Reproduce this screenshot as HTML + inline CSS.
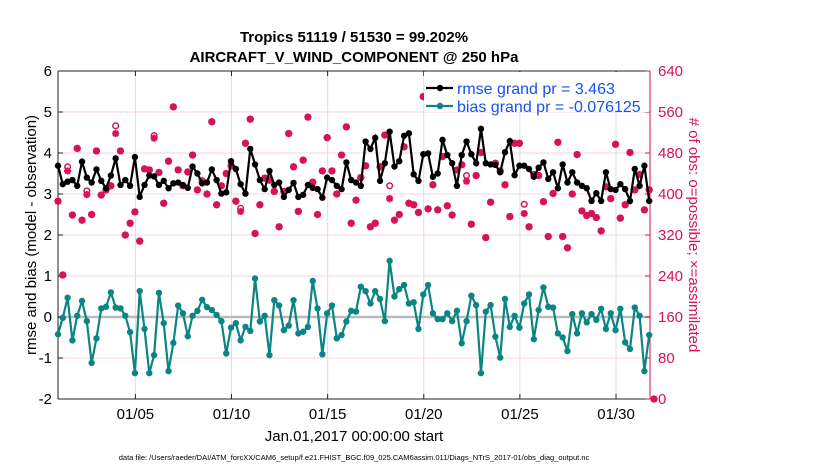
<!DOCTYPE html>
<html><head><meta charset="utf-8"><style>
body{margin:0;background:#fff;}
svg{display:block;font-family:"Liberation Sans",Arial,sans-serif;}
</style></head><body>
<svg id="chart" width="830" height="470" viewBox="0 0 830 470">
<rect width="830" height="470" fill="#fff"/>
<text x="354" y="42" text-anchor="middle" font-size="15" font-weight="bold">Tropics 51119 / 51530 = 99.202%</text>
<text x="354" y="62" text-anchor="middle" font-size="15" font-weight="bold">AIRCRAFT_V_WIND_COMPONENT @ 250 hPa</text>
<g id="grid"></g>
<g id="axes"></g>
<g id="marks"></g>
<g id="legend"></g>
<text transform="translate(36,235) rotate(-90)" text-anchor="middle" font-size="15">rmse and bias (model - observation)</text>
<text transform="translate(689,235) rotate(90)" text-anchor="middle" font-size="15" fill="#d6125a"># of obs: o=possible; ×=assimilated</text>
<text x="354" y="441" text-anchor="middle" font-size="15">Jan.01,2017 00:00:00 start</text>
<text x="354" y="460" text-anchor="middle" font-size="7.5">data file: /Users/raeder/DAI/ATM_forcXX/CAM6_setup/f.e21.FHIST_BGC.f09_025.CAM6assim.011/Diags_NTrS_2017-01/obs_diag_output.nc</text>
</svg>
<script>
const rmse=[3.69,3.24,3.3,3.34,3.2,3.79,3.4,3.28,3.6,3.32,3.14,3.45,3.87,3.22,3.34,3.2,3.9,2.93,3.22,3.45,3.43,3.22,3.32,3.14,3.26,3.28,3.22,3.15,3.67,3.5,3.26,3.28,
3.6,3.34,3.01,3.04,3.8,3.61,3.24,3.01,4.1,3.72,3.34,3.12,3.56,3.22,3.28,2.93,3.1,3.27,2.93,2.98,3.22,3.15,3.12,2.91,3.4,3.34,3.2,3.12,3.77,3.34,
3.28,3.2,4.28,4.1,4.37,3.32,3.75,4.52,3.67,3.8,4.42,4.48,3.48,3.32,3.97,3.99,3.42,3.5,4.32,3.95,3.75,3.2,3.95,4.28,3.97,3.75,4.59,3.75,3.72,3.71,3.53,
4.02,4.29,3.46,3.69,3.69,3.61,3.42,3.64,3.77,3.37,3.53,3.14,3.72,3.28,3.53,3.28,3.2,3.14,2.83,3.02,2.83,3.53,3.12,3.1,3.24,3.12,2.83,3.61,3.2,3.69,2.83];
const bias=[-0.42,-0.02,0.47,-0.57,0.03,0.39,-0.1,-1.12,-0.52,0.21,0.25,0.6,0.23,0.21,0.03,-0.37,-1.37,0.63,-0.29,-1.37,-0.93,0.59,-0.15,-1.32,-0.63,0.28,0.09,-0.47,0.03,0.15,0.42,0.24,
0.17,0.05,-0.1,-0.89,-0.26,-0.15,-0.57,-0.24,-0.34,0.94,-0.11,0.03,-0.93,0.41,0.28,-0.32,-0.21,0.41,-0.4,-0.36,-0.24,0.88,0.21,-0.91,0.09,0.28,-0.52,-0.44,-0.11,0.15,
0.13,0.74,0.63,0.33,0.63,0.44,-0.1,1.37,0.5,0.68,0.78,0.33,0.36,-0.29,0.55,0.78,0.09,-0.05,-0.05,0.09,-0.1,0.15,-0.64,-0.1,0.52,0.29,-1.37,0.13,0.29,-0.48,-0.99,
0.44,-0.24,0.03,-0.26,0.33,0.55,-0.54,0.17,0.72,0.25,0.23,-0.4,-0.5,-0.83,0.07,-0.4,0.09,-0.13,0.07,-0.07,0.2,-0.29,0.09,-0.32,0.2,-0.62,-0.78,0.23,0.03,-1.32,-0.44];
const assimilated=[386,242,445,359,489,349,399,360,484,398,408,416,518,484,320,343,365,308,449,447,509,442,382,464,570,447,416,443,476,408,423,400,
541,379,416,440,455,386,366,499,546,323,379,431,427,405,336,405,518,453,366,466,550,423,360,445,510,445,400,476,531,343,
388,432,455,336,343,453,515,391,349,360,492,382,379,364,590,371,418,369,473,377,359,447,457,425,341,436,481,315,384,460,445,
418,356,499,499,362,336,438,436,385,317,401,501,317,295,400,477,367,358,362,354,328,414,391,497,353,379,481,408,438,369,408,0];
const possible=[386,242,453,359,489,349,406,360,484,398,408,416,533,484,320,343,365,308,449,447,514,442,382,464,570,447,416,443,476,408,426,400,
541,379,416,440,455,386,372,499,546,323,379,431,427,405,336,405,518,453,366,466,550,423,360,445,510,445,400,476,531,343,
388,432,455,336,343,453,515,416,349,360,492,382,379,364,590,371,418,369,473,377,359,447,457,436,341,436,481,315,384,460,445,
418,356,499,499,380,336,438,436,385,317,401,501,317,295,400,477,367,358,362,354,328,414,391,497,353,379,481,408,438,369,408,0];
const xTickDays=[5,10,15,20,25,30];
const xTickLabels=["01/05","01/10","01/15","01/20","01/25","01/30"];
const yLeftTicks=[-2,-1,0,1,2,3,4,5,6];
const yRightTicks=[0,80,160,240,320,400,480,560,640];

const NS="http://www.w3.org/2000/svg";
const L=58,R=650,T=71,B=399;
const D0=0.975,D1=31.975;
function dayOf(i){return D0+i*0.25;}
function xs(d){return 58+(d-D0)/(D1-D0)*(654-58);}
function yl(v){return B-(v+2)/8*(B-T);}
function yr(c){return B-c/640*(B-T);}
function mk(tag,attrs,parent){const e=document.createElementNS(NS,tag);for(const k in attrs)e.setAttribute(k,attrs[k]);parent.appendChild(e);return e;}
const grid=document.getElementById('grid'),axes=document.getElementById('axes'),marks=document.getElementById('marks'),leg=document.getElementById('legend');
const RED="#d6125a",TEAL="#0b8484";

yRightTicks.forEach(function(c){
  const g=mk('line',{x1:L,x2:R,y1:yr(c),y2:yr(c),stroke:"#f5d5e0","stroke-width":1},grid);
  
  
});
xTickDays.forEach(function(d){
  const g=mk('line',{x1:xs(d),x2:xs(d),y1:T,y2:B,stroke:"#dddddd","stroke-width":1},grid);
  
  
});
const zl=mk('line',{x1:L,x2:R,y1:yl(0),y2:yl(0),stroke:"#bbbbbb","stroke-width":2.5},grid);



// axes
let a=mk('line',{x1:L,x2:L,y1:T,y2:B,stroke:"#222","stroke-width":1},axes);


a=mk('line',{x1:L,x2:R,y1:B,y2:B,stroke:"#222","stroke-width":1},axes);


a=mk('line',{x1:L,x2:R,y1:T,y2:T,stroke:"#222","stroke-width":1},axes);


a=mk('line',{x1:R,x2:R,y1:T,y2:B,stroke:RED,"stroke-width":1},axes);


yLeftTicks.forEach(function(v){
  const t=mk('line',{x1:L,x2:L+5,y1:yl(v),y2:yl(v),stroke:"#222"},axes);
  
  
  const tx=mk('text',{x:L-6,y:yl(v)+5,"text-anchor":"end","font-size":15},axes);
  tx.textContent=v;
  
  
});
yRightTicks.forEach(function(c){
  const t=mk('line',{x1:R-5,x2:R,y1:yr(c),y2:yr(c),stroke:RED},axes);
  
  
  const tx=mk('text',{x:R+8,y:yr(c)+5,"font-size":15,fill:RED},axes);
  tx.textContent=c;
  
  
});
xTickDays.forEach(function(d,k){
  const t=mk('line',{x1:xs(d),x2:xs(d),y1:B,y2:B-5,stroke:"#222"},axes);
  
  
  const t2=mk('line',{x1:xs(d),x2:xs(d),y1:T,y2:T+5,stroke:"#222"},axes);
  
  
  const tx=mk('text',{x:xs(d),y:B+20,"text-anchor":"middle","font-size":15},axes);
  tx.textContent=xTickLabels[k];
  
  
});

// red obs counts
function star(cx,cy,parent){
  const s=3.6,d=2.6;
  const p=mk('path',{d:"M"+(cx-s)+" "+cy+"H"+(cx+s)+"M"+cx+" "+(cy-s)+"V"+(cy+s)+"M"+(cx-d)+" "+(cy-d)+"L"+(cx+d)+" "+(cy+d)+"M"+(cx-d)+" "+(cy+d)+"L"+(cx+d)+" "+(cy-d),stroke:RED,"stroke-width":2,fill:"none"},parent);
  return p;
}
possible.forEach(function(c,i){
  const e=mk('circle',{cx:xs(dayOf(i)),cy:yr(c),r:2.8,fill:"none",stroke:RED,"stroke-width":1.5},marks);
  
  
});
assimilated.forEach(function(c,i){
  const e=star(xs(dayOf(i)),yr(c),marks);
  
  
});

function series(vals,color,name){
  const pts=vals.map(function(v,i){return xs(dayOf(i)).toFixed(1)+","+yl(v).toFixed(1);}).join(" ");
  const pl=mk('polyline',{points:pts,fill:"none",stroke:color,"stroke-width":2.2},marks);
  
  
  vals.forEach(function(v,i){
    const c=mk('circle',{cx:xs(dayOf(i)),cy:yl(v),r:3.2,fill:color},marks);
    
    
  });
}
series(rmse,"#000","rmse");
series(bias,TEAL,"bias");

// legend
const lb=mk('rect',{x:424,y:72,width:225,height:40,fill:"#fff"},leg);


[["rmse grand pr = 3.463","#000",89,'legend-rmse'],["bias grand pr = -0.076125",TEAL,107,'legend-bias']].forEach(function(e){
  const g=mk('g',{},leg);
  
  
  mk('line',{x1:426,x2:453,y1:e[2]-1,y2:e[2]-1,stroke:e[1],"stroke-width":2.2},g);
  mk('circle',{cx:440,cy:e[2]-1,r:3.2,fill:e[1]},g);
  const t=mk('text',{x:457,y:e[2]+5,"font-size":16,fill:"#1452f5"},g);
  t.textContent=e[0];
});
</script>
</body></html>
